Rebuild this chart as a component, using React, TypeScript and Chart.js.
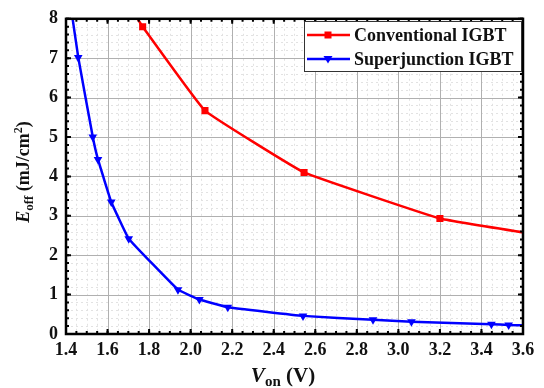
import React, { useEffect, useRef } from 'react';
import { Chart, registerables } from 'chart.js';
Chart.register(...registerables);

// ---- data ----
const seriesNames = ['Conventional IGBT', 'Superjunction IGBT'];
const convX = [1.72, 1.769, 2.069, 2.546, 3.2, 3.62];
const convY = [8.2, 7.8, 5.67, 4.1, 2.93, 2.56];
const sjX = [1.425, 1.459, 1.529, 1.554, 1.618, 1.702, 1.939, 2.042, 2.179, 2.541, 2.878, 3.063, 3.448, 3.531, 3.62];
const sjY = [8.25, 7.02, 5.0, 4.43, 3.35, 2.42, 1.125, 0.875, 0.68, 0.46, 0.36, 0.31, 0.25, 0.23, 0.22];
const xMajorTicks = [1.4, 1.6, 1.8, 2.0, 2.2, 2.4, 2.6, 2.8, 3.0, 3.2, 3.4, 3.6];
const yMajorTicks = [0, 1, 2, 3, 4, 5, 6, 7, 8];
const xMinorStep = 0.05;
const yMinorStep = 0.2;

const SERIF = '"Liberation Serif", "DejaVu Serif", serif';
const RED = '#ff0000';
const BLUE = '#0000ff';

type Seg = { t: string; italic?: boolean; scale?: number; dy?: number };

function drawRich(ctx: CanvasRenderingContext2D, segs: Seg[], size: number, cx: number, baseline: number) {
  const fontFor = (s: Seg) => `${s.italic ? 'italic ' : ''}bold ${Math.round(size * (s.scale || 1))}px ${SERIF}`;
  let total = 0;
  for (const s of segs) { ctx.font = fontFor(s); total += ctx.measureText(s.t).width; }
  let x = cx - total / 2;
  ctx.textAlign = 'left';
  ctx.textBaseline = 'alphabetic';
  for (const s of segs) {
    ctx.font = fontFor(s);
    ctx.fillText(s.t, x, baseline + (s.dy || 0));
    x += ctx.measureText(s.t).width;
  }
}

const framePlugin = {
  id: 'framePlugin',
  beforeDatasetsDraw(chart: any) {
    const { ctx, chartArea: a, scales } = chart;
    const xs = scales.x, ys = scales.y;
    ctx.save();
    // minor grid
    ctx.strokeStyle = '#e2e2e2';
    ctx.lineWidth = 1;
    ctx.setLineDash([2, 3]);
    for (let v = xs.min; v <= xs.max + 1e-9; v += xMinorStep) {
      const px = Math.round(xs.getPixelForValue(v)) + 0.5;
      ctx.beginPath(); ctx.moveTo(px, a.top); ctx.lineTo(px, a.bottom); ctx.stroke();
    }
    for (let v = ys.min; v <= ys.max + 1e-9; v += yMinorStep) {
      const py = Math.round(ys.getPixelForValue(v)) + 0.5;
      ctx.beginPath(); ctx.moveTo(a.left, py); ctx.lineTo(a.right, py); ctx.stroke();
    }
    // major grid
    ctx.setLineDash([]);
    ctx.strokeStyle = '#b0b0b0';
    for (const v of xMajorTicks) {
      const px = Math.round(xs.getPixelForValue(v)) + 0.5;
      ctx.beginPath(); ctx.moveTo(px, a.top); ctx.lineTo(px, a.bottom); ctx.stroke();
    }
    for (const v of yMajorTicks) {
      const py = Math.round(ys.getPixelForValue(v)) + 0.5;
      ctx.beginPath(); ctx.moveTo(a.left, py); ctx.lineTo(a.right, py); ctx.stroke();
    }
    ctx.restore();
  },
  afterDatasetsDraw(chart: any) {
    const { ctx, chartArea: a, scales } = chart;
    const xs = scales.x, ys = scales.y;
    ctx.save();
    ctx.strokeStyle = '#000';
    ctx.lineWidth = 2;
    const minorLen = 3, majorLen = 5;
    for (let v = xs.min; v <= xs.max + 1e-9; v += xMinorStep) {
      const px = xs.getPixelForValue(v);
      ctx.beginPath();
      ctx.moveTo(px, a.bottom); ctx.lineTo(px, a.bottom - minorLen);
      ctx.moveTo(px, a.top); ctx.lineTo(px, a.top + minorLen);
      ctx.stroke();
    }
    for (let v = ys.min; v <= ys.max + 1e-9; v += yMinorStep) {
      const py = ys.getPixelForValue(v);
      ctx.beginPath();
      ctx.moveTo(a.left, py); ctx.lineTo(a.left + minorLen, py);
      ctx.moveTo(a.right, py); ctx.lineTo(a.right - minorLen, py);
      ctx.stroke();
    }
    for (const v of xMajorTicks) {
      const px = xs.getPixelForValue(v);
      ctx.beginPath();
      ctx.moveTo(px, a.bottom); ctx.lineTo(px, a.bottom - majorLen);
      ctx.moveTo(px, a.top); ctx.lineTo(px, a.top + majorLen);
      ctx.stroke();
    }
    for (const v of yMajorTicks) {
      const py = ys.getPixelForValue(v);
      ctx.beginPath();
      ctx.moveTo(a.left, py); ctx.lineTo(a.left + majorLen, py);
      ctx.moveTo(a.right, py); ctx.lineTo(a.right - majorLen, py);
      ctx.stroke();
    }
    // frame
    ctx.lineWidth = 2.5;
    ctx.strokeRect(a.left, a.top, a.right - a.left, a.bottom - a.top);

    // legend
    const lx = 304.5, ly = 21.5, lw = 217, lh = 50;
    ctx.fillStyle = '#fff';
    ctx.fillRect(lx, ly, lw, lh);
    ctx.lineWidth = 1;
    ctx.strokeStyle = '#333';
    ctx.strokeRect(lx, ly, lw, lh);
    const rows = [
      { name: seriesNames[0], color: RED, y: 35, shape: 'rect' },
      { name: seriesNames[1], color: BLUE, y: 59, shape: 'tri' },
    ];
    for (const r of rows) {
      ctx.strokeStyle = r.color;
      ctx.fillStyle = r.color;
      ctx.lineWidth = 2.5;
      ctx.beginPath(); ctx.moveTo(307, r.y); ctx.lineTo(350, r.y); ctx.stroke();
      const mx = 328;
      if (r.shape === 'rect') {
        ctx.fillRect(mx - 3.5, r.y - 3.5, 7, 7);
      } else {
        ctx.beginPath();
        ctx.moveTo(mx - 4.5, r.y - 3); ctx.lineTo(mx + 4.5, r.y - 3); ctx.lineTo(mx, r.y + 4.5);
        ctx.closePath(); ctx.fill();
      }
      ctx.fillStyle = '#111';
      ctx.font = `bold 18px ${SERIF}`;
      ctx.textAlign = 'left';
      ctx.textBaseline = 'middle';
      ctx.fillText(r.name, 354, r.y + 1);
    }

    // axis titles
    ctx.fillStyle = '#111';
    drawRich(ctx, [
      { t: 'V', italic: true },
      { t: 'on', scale: 0.7, dy: 4 },
      { t: ' (V)' },
    ], 21, 283, 382);

    ctx.save();
    ctx.translate(29, 172);
    ctx.rotate(-Math.PI / 2);
    drawRich(ctx, [
      { t: 'E', italic: true },
      { t: 'off', scale: 0.7, dy: 4 },
      { t: ' (mJ/cm' },
      { t: '2', scale: 0.65, dy: -7 },
      { t: ')' },
    ], 18, 0, 0);
    ctx.restore();
    ctx.restore();
  },
};

export default function App() {
  const ref = useRef<HTMLCanvasElement | null>(null);
  useEffect(() => {
    document.body.style.margin = '0';
    if (!ref.current) return;
    const chart = new Chart(ref.current, {
      type: 'line',
      data: {
        datasets: [
          {
            label: seriesNames[0],
            data: convX.map((x, i) => ({ x, y: convY[i] })),
            borderColor: RED,
            backgroundColor: RED,
            borderWidth: 2.5,
            pointStyle: 'rect',
            pointRadius: 5,
            pointBorderWidth: 0,
            tension: 0.08,
          },
          {
            label: seriesNames[1],
            data: sjX.map((x, i) => ({ x, y: sjY[i] })),
            borderColor: BLUE,
            backgroundColor: BLUE,
            borderWidth: 2.5,
            pointStyle: 'triangle',
            pointRotation: 180,
            pointRadius: 5,
            pointBorderWidth: 0,
            tension: 0.08,
          },
        ],
      },
      options: {
        animation: false,
        responsive: true,
        maintainAspectRatio: false,
        layout: { padding: { left: 0, top: 14, right: 21, bottom: 0 } },
        plugins: { legend: { display: false }, tooltip: { enabled: false } },
        scales: {
          x: {
            type: 'linear',
            min: 1.4,
            max: 3.6,
            grid: { display: false, drawTicks: false },
            border: { display: false },
            afterBuildTicks: (s: any) => { s.ticks = xMajorTicks.map((v) => ({ value: v })); },
            afterFit: (s: any) => { s.height = 54; },
            ticks: {
              color: '#111',
              padding: 6,
              maxRotation: 0,
              font: { family: SERIF, size: 18, weight: 'bold' },
              callback: (v: any) => Number(v).toFixed(1),
            },
          },
          y: {
            type: 'linear',
            min: 0,
            max: 8,
            grid: { display: false, drawTicks: false },
            border: { display: false },
            afterBuildTicks: (s: any) => { s.ticks = yMajorTicks.map((v) => ({ value: v })); },
            afterFit: (s: any) => { s.width = 66; },
            ticks: {
              color: '#111',
              padding: 8,
              font: { family: SERIF, size: 18, weight: 'bold' },
              callback: (v: any) => String(v),
            },
          },
        },
      },
      plugins: [framePlugin],
    } as any);
    return () => chart.destroy();
  }, []);
  return (
    <div style={{ width: 544, height: 388, position: 'relative' }}>
      <canvas ref={ref} />
    </div>
  );
}
